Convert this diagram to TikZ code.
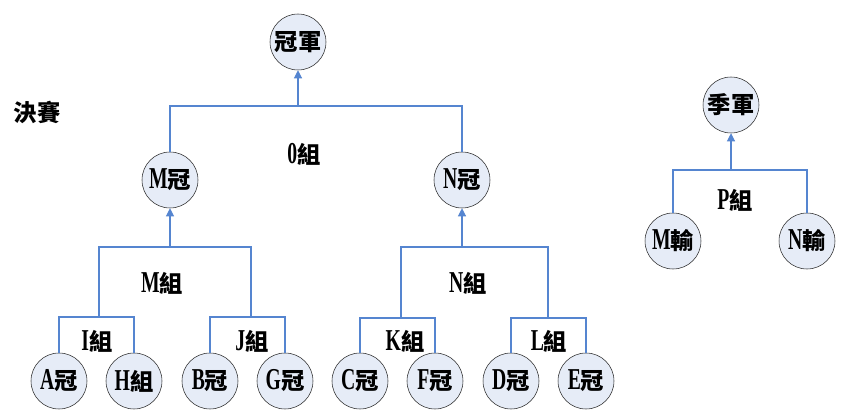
\documentclass[tikz,border=0pt]{standalone}
\usepackage{fontspec}
\setmainfont{Liberation Serif}[FakeStretch=0.65,Scale=1.3]
\newfontfamily\cjk{Noto Sans CJK TC}
\usepackage{xcolor}
\usepackage{tikz}
\usetikzlibrary{arrows.meta,calc}
\definecolor{wireblue}{HTML}{5585D0}
\definecolor{ballfill}{HTML}{E6ECF7}
\tikzset{%
         ball/.style = { circle, draw=black!85, fill=ballfill, minimum size=42pt, inner sep=0pt,
                         font=\bfseries\fontsize{17.5}{20}\selectfont },
         wire/.style = { draw=wireblue, line width=0.8pt },
        uparr/.style = { wire, -{Triangle[width=6pt,length=6pt]} },
          grp/.style = { font=\bfseries\fontsize{17.5}{20}\selectfont, inner sep=0pt }
}

\begin{document}
\begin{tikzpicture}[x=0.75pt,y=-0.75pt]
\useasboundingbox (0,0) rectangle (843,416);
% finals
\node [grp] (fin) at (37,112) {\cjk 決賽};
\node [ball] (champ) at (298,42) {\cjk 冠軍};
\node [ball] (mg) at (170,180) {M\cjk 冠};
\node [ball] (ng) at (462,180) {N\cjk 冠};
\node [grp] (otxt) at (304,154) {0\cjk 組};
% third place
\node [ball] (third) at (731,105) {\cjk 季軍};
\node [ball] (ml) at (673,241) {M\cjk 輸};
\node [ball] (nl) at (807,241) {N\cjk 輸};
\node [grp] (ptxt) at (735,200) {P\cjk 組};
% first round
\node [ball] (a) at (59,381) {A\cjk 冠};
\node [ball] (h) at (134,381) {H\cjk 組};
\node [ball] (b) at (210,381) {B\cjk 冠};
\node [ball] (g) at (285,381) {G\cjk 冠};
\node [ball] (c) at (360,381) {C\cjk 冠};
\node [ball] (f) at (435,381) {F\cjk 冠};
\node [ball] (d) at (511,381) {D\cjk 冠};
\node [ball] (e) at (586,381) {E\cjk 冠};
\node [grp] (itxt) at (97,341) {I\cjk 組};
\node [grp] (jtxt) at (252,341) {J\cjk 組};
\node [grp] (ktxt) at (405,341) {K\cjk 組};
\node [grp] (ltxt) at (549,341) {L\cjk 組};
\node [grp] (mtxt) at (162,283) {M\cjk 組};
\node [grp] (ntxt) at (468,283) {N\cjk 組};
% bracket joints
\coordinate (ib) at (99,317);
\coordinate (jb) at (251,317);
\coordinate (kb) at (401,318);
\coordinate (lb) at (548,318);
\coordinate (mb) at (170,247);
\coordinate (nb) at (462,247);
\coordinate (ob) at (298,106);
\coordinate (pb) at (731,170);
\draw [wire] (a.north) |- (ib) -| (h.north);
\draw [wire] (b.north) |- (jb) -| (g.north);
\draw [wire] (c.north) |- (kb) -| (f.north);
\draw [wire] (d.north) |- (lb) -| (e.north);
\draw [wire] (ib) |- (mb) -| (jb);
\draw [wire] (kb) |- (nb) -| (lb);
\draw [wire] (mg.north) |- (ob) -| (ng.north);
\draw [wire] (ml.north) |- (pb) -| (nl.north);
\draw [uparr] (mb) -- (mg.south);
\draw [uparr] (nb) -- (ng.south);
\draw [uparr] (ob) -- (champ.south);
\draw [uparr] (pb) -- (third.south);
\end{tikzpicture}
\end{document}
